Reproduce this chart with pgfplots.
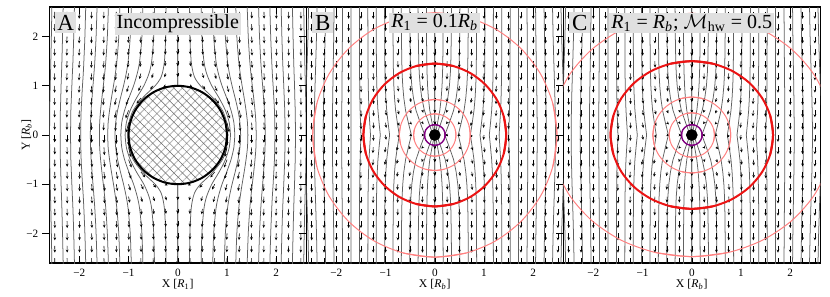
\documentclass[border=0pt]{standalone}
\usepackage{pgfplots}
\pgfplotsset{compat=1.18}
\usepackage{pgfplotstable}
\usepackage{fontspec}
\setmainfont{Liberation Serif}
\usetikzlibrary{arrows.meta,patterns.meta}
\definecolor{pinkc}{RGB}{255,128,128}
\definecolor{redc}{RGB}{235,20,20}
\definecolor{purp}{RGB}{128,0,128}
\definecolor{boxc}{RGB}{224,224,224}

% ---------- streamlines, quadrant x>=0,y>=0 (mirrored) ----------
\pgfplotstableread{
x y
0 2.65
0 1
nan nan
.2365 2.65
.2455 2
.2715 1.5
.315 1.25
.366 1.125
.46 1
.592 .875
.717 .75
.907 .5
.993 .25
1.018 0
nan nan
.473 2.65
.489 2
.5305 1.5
.585 1.25
.69 1
.84 .75
.967 .5
1.045 .25
1.0705 0
nan nan
.708 2.65
.729 2
.775 1.5
.824 1.25
.898 1
.994 .75
1.081 .5
1.139 .25
1.1575 0
nan nan
.943 2.65
.966 2
1.009 1.5
1.048 1.25
1.102 1
1.165 .75
1.2225 .5
1.262 .25
1.2766 0
nan nan
1.176 2.65
1.199 2
1.237 1.5
1.268 1.25
1.306 1
1.348 .75
1.386 .5
1.415 .25
1.4235 0
nan nan
1.408 2.65
1.431 2
1.462 1.5
1.485 1.25
1.513 1
1.542 .75
1.568 .5
1.587 .25
1.592 0
nan nan
1.639 2.65
1.6595 2
1.685 1.5
1.703 1.25
1.723 1
1.742 .75
1.760 .5
1.7726 .25
1.7765 0
nan nan
1.869 2.65
1.887 2
1.908 1.5
1.92 1.25
1.936 1
1.95 .75
1.963 .5
1.970 .25
1.973 0
nan nan
2.098 2.65
2.114 2
2.130 1.5
2.141 1.25
2.152 1
2.162 .75
2.172 .5
2.176 .25
2.178 0
nan nan
2.327 2.65
2.341 2
2.354 1.5
2.362 1.25
2.371 1
2.377 .75
2.385 .5
2.388 .25
2.389 0
nan nan
2.557 2.65
2.568 2
2.579 1.5
2.585 1.25
2.591 1
2.597 .75
2.601 .5
2.603 .25
2.605 0
}\LA

\pgfplotstableread{
x y
0 2.65
0 0
nan nan
.17 2.65
.168 2
.163 1.5
.157 1.25
.147 1
.130 .75
.102 .5
.057 .25
.0085 0
nan nan
.34 2.65
.335 2
.326 1.5
.3155 1.25
.297 1
.2635 .75
.2115 .5
.126 .25
.034 0
nan nan
.51 2.65
.505 2
.496 1.5
.4855 1.25
.467 1
.4335 .75
.3815 .5
.296 .25
.204 0
nan nan
.68 2.65
.677 2
.671 1.5
.664 1.25
.651 1
.629 .75
.594 .5
.537 .25
.476 0
nan nan
.85 2.65
.848 2
.844 1.5
.840 1.25
.832 1
.818 .75
.796 .5
.761 .25
.7225 0
nan nan
1.02 2.65
1.018 2
1.015 1.5
1.012 1.25
1.006 1
.9945 .75
.977 .5
.949 .25
.918 0
nan nan
1.19 2.65
1.189 2
1.186 1.5
1.183 1.25
1.178 1
1.169 .75
1.155 .5
1.132 .25
1.107 0
nan nan
1.36 2.65
1.359 2
1.358 1.5
1.356 1.25
1.352 1
1.346 .75
1.337 .5
1.322 .25
1.306 0
nan nan
1.53 2.65
1.53 2
1.529 1.5
1.528 1.25
1.526 1
1.5225 .75
1.517 .5
1.509 .25
1.50 0
nan nan
1.70 2.65
1.70 0
nan nan
1.873 2.65
1.8766 2
1.8806 1.5
1.8828 1.25
1.885 1
1.887 .75
1.8886 .5
1.8896 .25
1.89 0
nan nan
2.046 2.65
2.053 2
2.061 1.5
2.066 1.25
2.07 1
2.074 .75
2.077 .5
2.079 .25
2.08 0
nan nan
2.218 2.65
2.228 2
2.239 1.5
2.245 1.25
2.251 1
2.257 .75
2.261 .5
2.264 .25
2.265 0
nan nan
2.39 2.65
2.403 2
2.417 1.5
2.425 1.25
2.4325 1
2.4395 .75
2.445 .5
2.449 .25
2.45 0
nan nan
2.562 2.65
2.576 2
2.592 1.5
2.601 1.25
2.61 1
2.618 .75
2.624 .5
2.628 .25
2.63 0
}\LB

% ---------- velocity arrows, quadrant x>=0,y>=0 (mirrored) ----------
\pgfplotstableread{
x y u v
1 0 0 -1.5
1.25 0 0 -1.256
1.5 0 0 -1.148
1.75 0 0 -1.093
2 0 0 -1.063
2.25 0 0 -1.044
2.5 0 0 -1.032
1 .25 .322 -1.376
1.25 .25 .139 -1.214
1.5 .25 .069 -1.131
1.75 .25 .038 -1.085
2 .25 .023 -1.058
2.25 .25 .012 -1.04
2.5 .25 .008 -1.03
1 .5 .429 -1.143
1.25 .5 .212 -1.12
1.5 .5 .114 -1.089
1.75 .5 .066 -1.064
2 .5 .04 -1.047
2.25 .5 .025 -1.035
2.5 .5 .016 -1.027
.75 .75 .629 -.791
1 .75 .369 -.98
1.25 .75 .214 -1.033
1.5 .75 .127 -1.042
1.75 .75 .079 -1.039
2 .75 .051 -1.032
2.25 .75 .034 -1.025
2.5 .75 .023 -1.02
.25 1 .322 -.168
.5 1 .429 -.499
.75 1 .369 -.765
1 1 .265 -.912
1.25 1 .178 -.979
1.5 1 .118 -1.007
1.75 1 .079 -1.016
2 1 .054 -1.015
2.25 1 .038 -1.012
2.5 1 .027 -1.01
0 1.25 0 -.488
.25 1.25 .139 -.545
.5 1.25 .212 -.675
.75 1.25 .214 -.805
1 1.25 .178 -.899
1.25 1.25 .136 -.955
1.5 1.25 .099 -.985
1.75 1.25 .07 -.999
2 1.25 .05 -1.003
2.25 1.25 .036 -1.003
2.5 1.25 .026 -1.002
0 1.5 0 -.704
.25 1.5 .069 -.727
.5 1.5 .114 -.785
.75 1.5 .127 -.852
1 1.5 .118 -.908
1.25 1.5 .099 -.948
1.5 1.5 .079 -.974
1.75 1.5 .06 -.988
2 1.5 .045 -.995
2.25 1.5 .033 -.998
2.5 1.5 .025 -1
0 1.75 0 -.813
.25 1.75 .038 -.824
.5 1.75 .066 -.853
.75 1.75 .079 -.889
1 1.75 .079 -.923
1.25 1.75 .07 -.95
1.5 1.75 .06 -.97
1.75 1.75 .05 -.984
2 1.75 .04 -.993
2.25 1.75 .031 -.997
2.5 1.75 .024 -1
0 2 0 -.875
.25 2 .023 -.881
.5 2 .04 -.896
.75 2 .051 -.915
1 2 .054 -.935
1.25 2 .05 -.952
1.5 2 .045 -.966
1.75 2 .04 -.978
2 2 .034 -.987
2.25 2 .028 -.993
2.5 2 .022 -.997
0 2.25 0 -.912
.25 2.25 .015 -.915
.5 2.25 .026 -.922
.75 2.25 .033 -.932
1 2.25 .036 -.944
1.25 2.25 .036 -.955
1.5 2.25 .034 -.966
1.75 2.25 .031 -.976
2 2.25 .028 -.984
2.25 2.25 .024 -.99
2.5 2.25 .02 -.994
0 2.5 0 -.936
.25 2.5 .01 -.938
.5 2.5 .018 -.942
.75 2.5 .023 -.948
1 2.5 .026 -.955
1.25 2.5 .027 -.962
1.5 2.5 .026 -.97
1.75 2.5 .024 -.977
2 2.5 .022 -.984
2.25 2.5 .019 -.989
2.5 2.5 .017 -.993
}\QA

\pgfplotstableread{
x y u v
0 .25 0 -.25
.25 .25 -.15 -.2
.5 .25 -.25 -.25
.75 .25 -.2 -.45
1 .25 -.1 -.75
1.25 .25 -.06 -.85
1.5 .25 -.03 -.93
1.75 .25 0 -1
2 .25 0 -1
2.25 .25 0 -1
2.5 .25 0 -1
0 .5 0 -.35
.25 .5 -.1 -.35
.5 .5 -.15 -.45
.75 .5 -.17 -.6
1 .5 -.12 -.75
1.25 .5 -.07 -.85
1.5 .5 -.04 -.93
1.75 .5 0 -1
2 .5 0 -1
2.25 .5 0 -1
2.5 .5 0 -1
0 .75 0 -.55
.25 .75 -.07 -.6
.5 .75 -.12 -.6
.75 .75 -.13 -.7
1 .75 -.1 -.8
1.25 .75 -.06 -.88
1.5 .75 -.03 -.94
1.75 .75 0 -1
2 .75 0 -1
2.25 .75 0 -1
2.5 .75 0 -1
0 1 0 -.75
.25 1 -.05 -.78
.5 1 -.08 -.8
.75 1 -.08 -.83
1 1 -.07 -.87
1.25 1 -.05 -.9
1.5 1 -.03 -.95
1.75 1 0 -1
2 1 0 -1
2.25 1 0 -1
2.5 1 0 -1
0 1.25 0 -.85
.25 1.25 -.03 -.87
.5 1.25 -.05 -.88
.75 1.25 -.05 -.9
1 1.25 -.05 -.92
1.25 1.25 -.03 -.95
1.5 1.25 0 -1
1.75 1.25 0 -1
2 1.25 0 -1
2.25 1.25 0 -1
2.5 1.25 0 -1
0 1.5 0 -.92
.25 1.5 -.03 -.94
.5 1.5 -.03 -.94
.75 1.5 -.03 -.94
1 1.5 -.03 -.94
1.25 1.5 0 -1
1.5 1.5 0 -1
1.75 1.5 0 -1
2 1.5 0 -1
2.25 1.5 0 -1
2.5 1.5 0 -1
0 1.75 0 -1
.25 1.75 0 -1
.5 1.75 0 -1
.75 1.75 0 -1
1 1.75 0 -1
1.25 1.75 0 -1
1.5 1.75 0 -1
1.75 1.75 0 -1
2 1.75 0 -1
2.25 1.75 0 -1
2.5 1.75 0 -1
0 2 0 -1
.25 2 0 -1
.5 2 0 -1
.75 2 0 -1
1 2 0 -1
1.25 2 0 -1
1.5 2 0 -1
1.75 2 0 -1
2 2 0 -1
2.25 2 0 -1
2.5 2 0 -1
0 2.25 0 -1
.25 2.25 0 -1
.5 2.25 0 -1
.75 2.25 0 -1
1 2.25 0 -1
1.25 2.25 0 -1
1.5 2.25 0 -1
1.75 2.25 0 -1
2 2.25 0 -1
2.25 2.25 0 -1
2.5 2.25 0 -1
0 2.5 0 -1
.25 2.5 0 -1
.5 2.5 0 -1
.75 2.5 0 -1
1 2.5 0 -1
1.25 2.5 0 -1
1.5 2.5 0 -1
1.75 2.5 0 -1
2 2.5 0 -1
2.25 2.5 0 -1
2.5 2.5 0 -1
}\QB

\pgfplotstableread{
x y u v
.25 0 -.3 0
.5 0 -.3 -.1
.75 0 -.2 -.4
1 0 -.08 -.7
1.25 0 -.03 -.85
1.5 0 0 -.95
1.75 0 0 -1
2 0 0 -1
2.25 0 0 -1
2.5 0 0 -1
}\QBz

% ---------- circles ----------
\pgfplotstableread{
x y
1 0
.966 .259
.866 .5
.707 .707
.5 .866
.259 .966
0 1
-.259 .966
-.5 .866
-.707 .707
-.866 .5
-.966 .259
-1 0
-.966 -.259
-.866 -.5
-.707 -.707
-.5 -.866
-.259 -.966
0 -1
.259 -.966
.5 -.866
.707 -.707
.866 -.5
.966 -.259
1 0
}\SPH

\pgfplotstableread{
x y
2.396 -.642
2.48 0
2.396 .642
2.148 1.24
1.753 1.753
1.24 2.148
.642 2.396
0 2.48
-.642 2.396
nan nan
.696 -.186
.72 0
.696 .186
.624 .36
.509 .509
.36 .624
.186 .696
0 .72
-.186 .696
nan nan
.415 -.111
.43 0
.415 .111
.372 .215
.304 .304
.215 .372
.111 .415
0 .43
-.111 .415
}\BPink

\pgfplotstableread{
x y
1.401 -.376
1.45 0
1.401 .376
1.256 .725
1.025 1.025
.725 1.256
.376 1.401
0 1.45
-.376 1.401
}\BRed

\pgfplotstableread{
x y
.203 -.054
.21 0
.203 .054
.182 .105
.148 .148
.105 .182
.054 .203
0 .21
-.054 .203
}\Purp

\pgfplotstableread{
x y
2.763 -.640
2.86 0
2.763 .640
2.477 1.235
2.022 1.746
1.43 2.139
.741 2.386
0 2.47
-.741 2.386
nan nan
.763 -.199
.79 0
.763 .199
.684 .385
.559 .544
.395 .667
.205 .744
0 .77
-.205 .744
nan nan
.444 -.117
.46 0
.444 .117
.398 .225
.325 .318
.23 .39
.119 .435
0 .45
-.119 .435
}\CPink

\pgfplotstableread{
x y
1.594 -.389
1.65 0
1.594 .389
1.429 .75
1.167 1.061
.825 1.299
.427 1.449
0 1.5
-.427 1.449
}\CRed

\newcommand{\fourfold}[2]{%
\addplot[#1] table[x=x,y=y]{#2};
\addplot[#1] table[x expr=-\thisrow{x},y=y]{#2};
\addplot[#1] table[x=x,y expr=-\thisrow{y}]{#2};
\addplot[#1] table[x expr=-\thisrow{x},y expr=-\thisrow{y}]{#2};}

\newcommand{\quivfour}[1]{%
\addplot[arr, quiver={u=\thisrow{u},v=\thisrow{v},scale arrows=0.14}] table[x=x,y=y]{#1};
\addplot[arr, quiver={u=-\thisrow{u},v=\thisrow{v},scale arrows=0.14}] table[x expr=-\thisrow{x},y=y]{#1};
\addplot[arr, quiver={u=-\thisrow{u},v=\thisrow{v},scale arrows=0.14}] table[x=x,y expr=-\thisrow{y}]{#1};
\addplot[arr, quiver={u=\thisrow{u},v=\thisrow{v},scale arrows=0.14}] table[x expr=-\thisrow{x},y expr=-\thisrow{y}]{#1};}

\newcommand{\quivtwo}[1]{%
\addplot[arr, quiver={u=\thisrow{u},v=\thisrow{v},scale arrows=0.14}] table[x=x,y=y]{#1};
\addplot[arr, quiver={u=-\thisrow{u},v=\thisrow{v},scale arrows=0.14}] table[x expr=-\thisrow{x},y=y]{#1};}

\tikzset{
  arr/.style={black, line width=0.28pt, -{Stealth[length=1.5pt,width=1.35pt]}},
  sl/.style={black!62, line width=0.38pt},
  lettr/.style={anchor=north west, fill=boxc, inner sep=0.6pt, font=\fontsize{11.5}{11.5}\selectfont, minimum height=10.5pt, minimum width=10.5pt, xshift=2.8pt, yshift=-2.5pt},
  ttl/.style={anchor=north, fill=boxc, inner sep=1pt, font=\fontsize{10}{10}\selectfont, minimum height=9.8pt, yshift=-2.6pt},
}
\pgfplotsset{
  common/.style={
    anchor=south west, scale only axis, width=128.5pt, height=128pt,
    xmin=-2.61, xmax=2.61, ymin=-2.6, ymax=2.6,
    xtick={-2,-1,0,1,2}, ytick={-2,-1,0,1,2},
    xticklabels={−2,−1,0,1,2},
    tick align=inside, major tick length=3.5pt,
    xtick pos=both, ytick pos=left,
    every tick/.append style={black, line width=0.5pt},
    every y tick/.append style={xshift=-3.5pt},
    axis line style={line width=0.7pt},
    unbounded coords=jump, no markers,
    tick label style={font=\fontsize{5.6}{6}\selectfont},
    label style={font=\fontsize{5.9}{7}\selectfont},
    xticklabel style={yshift=0.6pt},
    x label style={at={(axis description cs:0.5,-0.083)},anchor=center},
    y label style={at={(axis description cs:-0.088,0.5)},anchor=center},
    yticklabel style={xshift=-2pt},
  },
}

\begin{document}
\begin{tikzpicture}
\path (0,0) rectangle (415pt,145.5pt);

% ----- A -----
\begin{axis}[common, at={(24.65pt,14pt)},
  xlabel={X [\textit{R}\textsubscript{1}]},
  ylabel={Y [\textit{R}\textsubscript{\textit{b}}]},
  yticklabels={−2,−1,0,1,2}]
\fourfold{sl, smooth}{\LA}
\quivfour{\QA}
\addplot[draw=none, fill=white, smooth] table{\SPH};
\addplot[draw=none, smooth, pattern={Lines[angle=45,distance=3pt,line width=0.45pt]}, pattern color=black!28] table{\SPH};
\addplot[draw=none, smooth, pattern={Lines[angle=-45,distance=3pt,line width=0.25pt]}, pattern color=black!60] table{\SPH};
\addplot[black, line width=1pt, smooth] table{\SPH};
\node[lettr] at (rel axis cs:0,1) {A};
\node[ttl] at (rel axis cs:0.5,1) {Incompressible};
\end{axis}

% ----- B -----
\begin{axis}[common, at={(153.15pt,14pt)},
  xlabel={X [\textit{R}\textsubscript{\textit{b}}]},
  yticklabels={}]
\fourfold{sl}{\LB}
\quivfour{\QB}
\quivtwo{\QBz}
\fourfold{pinkc, line width=0.5pt, smooth}{\BPink}
\fourfold{redc, line width=1pt, smooth}{\BRed}
\fourfold{purp, line width=0.7pt, smooth}{\Purp}
\addplot[only marks, mark=*, mark size=2.7pt, black] coordinates {(0,0)};
\node[lettr] at (rel axis cs:0,1) {B};
\node[ttl] at (rel axis cs:0.5,1) {\textit{R}\textsubscript{1} = 0.1\textit{R}\textsubscript{\textit{b}}};
\end{axis}

% ----- C -----
\begin{axis}[common, at={(281.65pt,14pt)},
  xlabel={X [\textit{R}\textsubscript{\textit{b}}]},
  yticklabels={}]
\fourfold{sl}{\LB}
\quivfour{\QB}
\quivtwo{\QBz}
\fourfold{pinkc, line width=0.5pt, smooth}{\CPink}
\fourfold{redc, line width=1pt, smooth}{\CRed}
\fourfold{purp, line width=0.7pt, smooth}{\Purp}
\addplot[only marks, mark=*, mark size=2.7pt, black] coordinates {(0,0)};
\node[lettr] at (rel axis cs:0,1) {C};
\node[ttl] at (rel axis cs:0.5,1) {\textit{R}\textsubscript{1} = \textit{R}\textsubscript{\textit{b}}; $\mathcal{M}$\textsubscript{hw} = 0.5};
\end{axis}
\end{tikzpicture}
\end{document}
